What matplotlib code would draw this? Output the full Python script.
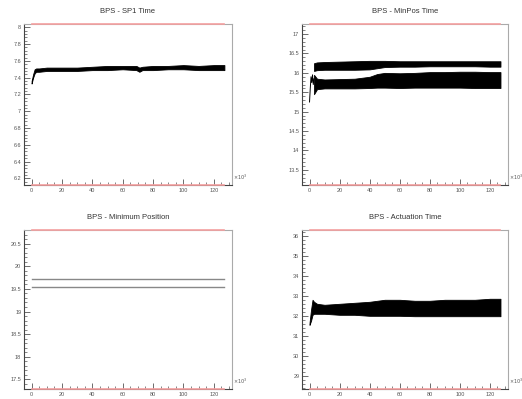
import matplotlib
matplotlib.use("Agg")
import matplotlib.pyplot as plt
from matplotlib.ticker import MultipleLocator, FormatStrFormatter

plt.rcParams['font.family'] = ['Liberation Sans', 'DejaVu Sans']

# panel titles
titles = ['BPS - SP1 Time', 'BPS - MinPos Time', 'BPS - Minimum Position', 'BPS - Actuation Time']

# x range of the recorded data (x 10^3)
x_first, x_last = 0, 127

# SP1 Time: start transient + band envelope
sp1_x = [0, 1, 2, 3, 5, 10, 20, 30, 40, 50, 60, 69, 71, 73, 80, 90, 100, 110, 120, 127]
sp1_lo = [7.33, 7.40, 7.45, 7.47, 7.47, 7.48, 7.48, 7.48, 7.49, 7.49, 7.50, 7.49, 7.47, 7.49,
          7.49, 7.50, 7.50, 7.49, 7.49, 7.49]
sp1_hi = [7.36, 7.44, 7.50, 7.51, 7.51, 7.52, 7.52, 7.52, 7.53, 7.54, 7.54, 7.54, 7.52, 7.53,
          7.54, 7.54, 7.55, 7.54, 7.55, 7.55]

# MinPos Time: two bands + start transient
mp_x = [3, 5, 10, 20, 30, 40, 45, 50, 60, 70, 80, 90, 100, 110, 120, 127]
mp_up_lo = [16.05, 16.07, 16.08, 16.08, 16.08, 16.09, 16.12, 16.15, 16.16, 16.16, 16.17, 16.17,
            16.17, 16.17, 16.16, 16.16]
mp_up_hi = [16.25, 16.27, 16.28, 16.29, 16.30, 16.31, 16.31, 16.31, 16.30, 16.30, 16.30, 16.30,
            16.30, 16.30, 16.30, 16.30]
mp_dn_lo = [15.45, 15.58, 15.60, 15.60, 15.60, 15.61, 15.62, 15.62, 15.61, 15.62, 15.62, 15.62,
            15.62, 15.61, 15.61, 15.61]
mp_dn_hi = [15.95, 15.85, 15.83, 15.84, 15.85, 15.90, 15.97, 16.00, 15.99, 16.00, 16.02, 16.02,
            16.03, 16.03, 16.02, 16.02]
mp_start_x = [0, 0.5, 1, 1.5, 2, 2.5, 3]
mp_start_y = [15.25, 15.6, 15.9, 15.75, 15.95, 15.7, 15.85]

# Minimum Position: two constant levels
minpos_levels = [19.72, 19.55]

# Actuation Time band
act_x = [0, 1, 2, 3, 5, 10, 20, 30, 40, 45, 50, 60, 70, 80, 90, 100, 110, 120, 127]
act_lo = [31.55, 31.75, 32.05, 32.10, 32.10, 32.10, 32.05, 32.05, 32.00, 32.00, 32.00, 32.00,
          31.98, 31.98, 31.98, 31.98, 31.98, 31.98, 31.98]
act_hi = [31.65, 32.30, 32.80, 32.70, 32.60, 32.55, 32.60, 32.65, 32.70, 32.75, 32.80, 32.80,
          32.75, 32.75, 32.80, 32.80, 32.80, 32.85, 32.85]

# axis ranges and tick steps per panel
ylims = [(6.12, 8.04), (13.11, 17.26), (17.29, 20.80), (28.35, 36.28)]
ymajor = [0.2, 0.5, 0.5, 1.0]
yminor = [0.04, 0.1, 0.1, 0.2]
xlim = (-5, 132)

fig = plt.figure(figsize=(5.22, 3.99), dpi=100)
W, H = 522, 399
boxes = [(24, 24, 232, 185), (302, 24, 508, 185), (24, 230, 232, 389), (302, 230, 508, 389)]
axes = []
for (l, t, r, b) in boxes:
    axes.append(fig.add_axes([l / W, 1 - b / H, (r - l) / W, (b - t) / H]))

ax1, ax2, ax3, ax4 = axes
ax1.fill_between(sp1_x, sp1_lo, sp1_hi, color='black', lw=0.6)

ax2.fill_between(mp_x, mp_up_lo, mp_up_hi, color='black', lw=0.6)
ax2.fill_between(mp_x, mp_dn_lo, mp_dn_hi, color='black', lw=0.6)
ax2.plot(mp_start_x, mp_start_y, color='black', lw=0.7)

for lev in minpos_levels:
    ax3.plot([x_first, x_last], [lev, lev], color='#888888', lw=1.0)

ax4.fill_between(act_x, act_lo, act_hi, color='black', lw=0.6)

for i, ax in enumerate(axes):
    lo, hi = ylims[i]
    ax.set_xlim(*xlim)
    ax.set_ylim(lo, hi)
    # red limit lines at the frame edges
    ax.plot([x_first, x_last], [hi, hi], color='#f4a0a0', lw=1.2, clip_on=False, zorder=5)
    ax.plot([x_first, x_last], [lo, lo], color='#f4a0a0', lw=1.2, clip_on=False, zorder=5)
    ax.xaxis.set_major_locator(MultipleLocator(20))
    ax.xaxis.set_minor_locator(MultipleLocator(5))
    ax.yaxis.set_major_locator(MultipleLocator(ymajor[i]))
    ax.yaxis.set_minor_locator(MultipleLocator(yminor[i]))
    ax.yaxis.set_major_formatter(FormatStrFormatter('%g'))
    ax.tick_params(which='both', direction='in', labelsize=4, colors='#555555',
                   top=False, right=False, pad=2)
    ax.tick_params(which='major', length=4, width=0.6)
    ax.tick_params(which='minor', length=2, width=0.5)
    for side in ['left', 'bottom']:
        ax.spines[side].set_color('#444444')
        ax.spines[side].set_linewidth(0.8)
    for side in ['top', 'right']:
        ax.spines[side].set_color('#aaaaaa')
        ax.spines[side].set_linewidth(0.8)
    ax.set_title(titles[i], fontsize=5.5, color='#333333', pad=8)
    ax.text(1.005, 0.02, r'$\times10^{3}$', transform=ax.transAxes, fontsize=3.5,
            color='#555555', ha='left', va='bottom')

fig.savefig('out.png', dpi=100)
